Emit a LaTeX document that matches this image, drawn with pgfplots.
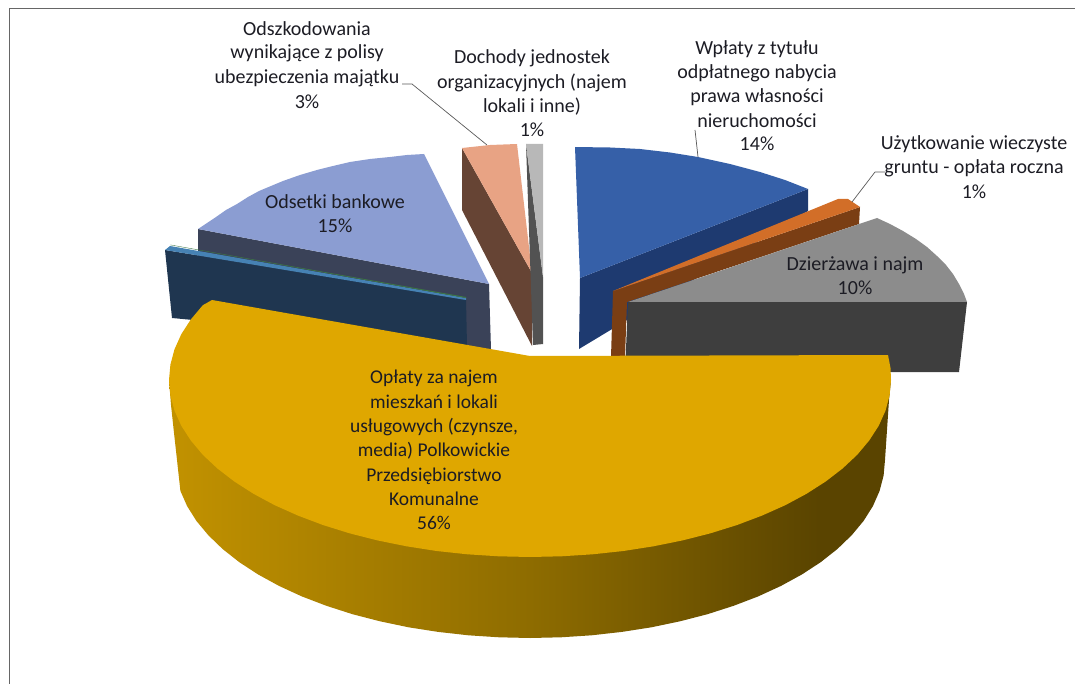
\documentclass[border=0pt]{standalone}
\usepackage{pgfplots}
\pgfplotsset{compat=1.18}
\usepackage{fontspec}
\setmainfont{Carlito}
\definecolor{goldL}{HTML}{C29200}
\definecolor{goldM}{HTML}{8E6C00}
\definecolor{goldR}{HTML}{5A4400}
\definecolor{goldT}{HTML}{DFA700}
\definecolor{txt}{HTML}{1C1C24}
\definecolor{a1}{HTML}{3A4258}
\definecolor{a2}{HTML}{1F3650}
\definecolor{a3}{HTML}{4682B4}
\definecolor{a4}{HTML}{3C7846}
\definecolor{a5}{HTML}{8B9DD2}
\definecolor{b1}{HTML}{664434}
\definecolor{b2}{HTML}{E8A384}
\definecolor{c1}{HTML}{525252}
\definecolor{c2}{HTML}{B8B8B8}
\definecolor{d1}{HTML}{1E3A70}
\definecolor{d2}{HTML}{3660A8}
\definecolor{e1}{HTML}{7A3E14}
\definecolor{e2}{HTML}{D26E28}
\definecolor{f1}{HTML}{3E3E3E}
\definecolor{f2}{HTML}{8C8C8C}
\pgfdeclarehorizontalshading{goldside}{100bp}{
  color(0bp)=(goldL); color(25bp)=(goldL); color(50bp)=(goldM); color(70bp)=(goldR); color(100bp)=(goldR)}
\tikzset{lab/.style={font=\fontsize{20}{22}\selectfont, text=txt, inner sep=0pt, anchor=center},
  labg/.style={font=\fontsize{19.5}{22}\selectfont, text=txt, inner sep=0pt, anchor=center}}
\begin{document}
\begin{tikzpicture}
\path (0,0) rectangle (1075pt,684pt);
\begin{axis}[
  scale only axis, width=1075pt, height=684pt, at={(0,0)}, anchor=south west,
  xmin=0, xmax=1075, ymin=0, ymax=684, y dir=reverse,
  hide axis, clip=true,
]
% frame
\addplot[draw=gray!80!black, line width=0.9pt, forget plot] coordinates {(9,684) (9,8) (1075,8)};

% light blue slice (Odsetki bankowe)
\addplot[fill=a1, draw=none] coordinates {(198,229) (489,284) (491,350) (198,300)} --cycle;
% dark navy side, thin slices
\addplot[fill=a2, draw=none] coordinates {(165,250) (466,299) (467,346) (172,318)} --cycle;
\addplot[fill=a3, draw=none] coordinates {(165,250) (170,246) (466,298) (466,300)} --cycle;
\addplot[fill=a4, draw=none] coordinates {(170,245) (172,245) (466,297) (466,298)} --cycle;
\addplot[fill=a5, draw=none] coordinates {(198,229) (207,223) (216,217) (226,210) (237,204) (248,197) (259,191) (271,186) (283,181) (300,175) (317,170) (333,166) (350,162) (370,159) (390,157) (407,155) (424,154) (489,284)} --cycle;

% salmon slice
\addplot[fill=b1, draw=none] coordinates {(462,148) (532,273) (532,346) (462,210)} --cycle;
\addplot[fill=b2, draw=none] coordinates {(462,148) (490,145) (517,144) (532,273)} --cycle;

% grey small slice
\addplot[fill=c1, draw=none] coordinates {(526,144) (543,277) (543,344) (533,345)} --cycle;
\addplot[fill=c2, draw=none] coordinates {(526,144) (543,144) (543,277)} --cycle;

% blue slice
\addplot[fill=d1, draw=none] coordinates {(580,278) (808,189) (808,211) (579,349)} --cycle;
\addplot[fill=d2, draw=none] coordinates {(575,147) (610,147.5) (640,149) (670,152.5) (698,157) (730,164) (760,172) (785,180) (808,189) (580,278)} --cycle;

% orange slice
\addplot[fill=e1, draw=none] coordinates {(613,291) (860,207) (859,224) (627,302) (625,357) (611,357)} --cycle;
\addplot[fill=e2, draw=none] coordinates {(613,291) (838,199) (848,199) (860,207)} --cycle;

% grey slice
\addplot[fill=f1, draw=none] coordinates {(628,302) (967,302) (959,372) (625,372)} --cycle;
\addplot[fill=f2, draw=none] coordinates {(628,302) (877,218) (890,224) (903,231) (916,239) (927,247) (937,256) (946,265) (953,274) (959,284) (964,294) (967,302)} --cycle;

% gold side and top
\addplot[shading=goldside, draw=none] coordinates {
  (169,380) (171,405) (174,433) (177,460) (180.4,490.9) (187.1,506.1) (196.4,520.9) (208.3,535.2) (222.6,549) (239.2,562.1) (258,574.4) (279,585.9) (301.8,596.4) (326.4,605.8) (352.5,614.2) (380,621.3) (408.6,627.3) (438.1,631.9) (468.4,635.3) (499.1,637.3) (530,638) (560.9,637.3) (591.6,635.3) (621.9,631.9) (651.4,627.3) (680,621.3) (707.5,614.2) (733.6,605.8) (758.2,596.4) (781,585.9) (802,574.4) (820.8,562.1) (837.4,549) (851.7,535.2) (863.6,520.9) (872.9,506.1) (879.6,490.9) (883.6,475.5) (885,460) (889,400) (891,380) (860,400)} --cycle;
\addplot[fill=goldT, draw=none] coordinates {
  (212,300) (530,356) (888,355) (890.5,368) (891,380) (889.6,395.4) (885.5,410.7) (878.7,425.8) (869.2,440.5) (857.2,454.8) (842.6,468.5) (825.7,481.5) (806.5,493.8) (785.3,505.2) (762,515.6) (737.1,525) (710.5,533.3) (682.6,540.4) (653.5,546.3) (623.4,551) (592.7,554.3) (561.5,556.3) (530,557) (498.5,556.3) (467.3,554.3) (436.6,551) (406.5,546.3) (377.4,540.4) (349.5,533.3) (322.9,525) (298,515.6) (274.7,505.2) (253.5,493.8) (234.3,481.5) (217.4,468.5) (202.8,454.8) (190.8,440.5) (181.3,425.8) (174.5,410.7) (170.4,395.4) (169,380) (170.4,364.6) (174.5,349.3) (181.3,334.2) (190.8,319.5) (202.8,305.2)} --cycle;

% leader lines
\addplot[draw=gray!70!black, line width=0.7pt] coordinates {(402,84) (412,84) (487,145)};
\addplot[draw=gray!70!black, line width=0.7pt] coordinates {(695,130) (698,157)};
\addplot[draw=gray!70!black, line width=0.7pt] coordinates {(885,172) (875,172) (852,202)};

% labels
\node[lab] at (axis cs:307,29) {Odszkodowania};
\node[lab] at (axis cs:307,53) {wynikające z polisy};
\node[lab] at (axis cs:307,78) {ubezpieczenia majątku};
\node[lab] at (axis cs:307,102) {3\%};
\node[lab] at (axis cs:532,58) {Dochody jednostek};
\node[lab] at (axis cs:532,83) {organizacyjnych (najem};
\node[lab] at (axis cs:532,107) {lokali i inne)};
\node[lab] at (axis cs:532,130) {1\%};
\node[lab] at (axis cs:757,49) {Wpłaty z tytułu};
\node[lab] at (axis cs:757,73) {odpłatnego nabycia};
\node[lab] at (axis cs:757,97) {prawa własności};
\node[lab] at (axis cs:757,121) {nieruchomości};
\node[lab] at (axis cs:757,144) {14\%};
\node[lab] at (axis cs:974,144) {Użytkowanie wieczyste};
\node[lab] at (axis cs:974,168) {gruntu - opłata roczna};
\node[lab] at (axis cs:974,192) {1\%};
\node[lab] at (axis cs:855,265) {Dzierżawa i najm};
\node[lab] at (axis cs:855,288) {10\%};
\node[lab] at (axis cs:335,202) {Odsetki bankowe};
\node[lab] at (axis cs:335,226) {15\%};
\node[labg] at (axis cs:434,378) {Opłaty za najem};
\node[labg] at (axis cs:434,402) {mieszkań i lokali};
\node[labg] at (axis cs:434,427) {usługowych (czynsze,};
\node[labg] at (axis cs:434,451) {media) Polkowickie};
\node[labg] at (axis cs:434,476) {Przedsiębiorstwo};
\node[labg] at (axis cs:434,499) {Komunalne};
\node[labg] at (axis cs:434,523) {56\%};
\end{axis}
\end{tikzpicture}
\end{document}
